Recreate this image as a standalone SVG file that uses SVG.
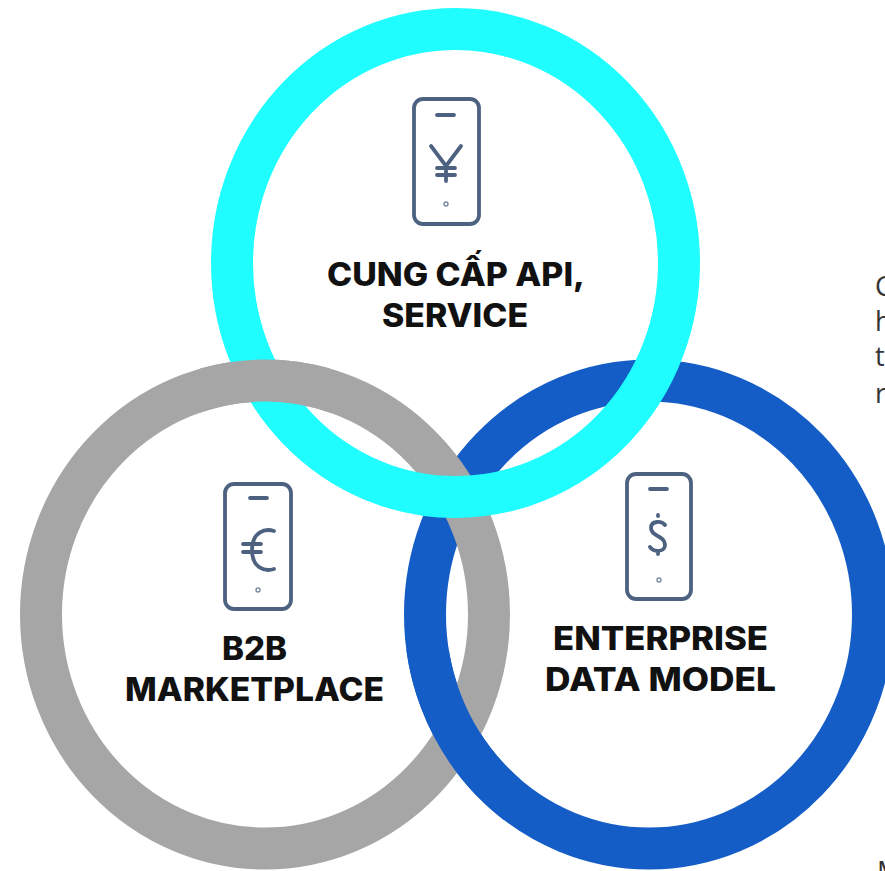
<svg xmlns="http://www.w3.org/2000/svg" width="885" height="871" viewBox="0 0 885 871">
<style>
.ring{fill:none;stroke-width:42}
.gray{stroke:#a6a6a6}.blue{stroke:#145cc6}.cyan{stroke:#1ffdff}
.ic{fill:none;stroke:#4d6280;stroke-width:3.8;stroke-linecap:round;stroke-linejoin:round}
.dot{fill:none;stroke:#7a8ba3;stroke-width:1.400}
.lb{font-family:"Inter","Liberation Sans",sans-serif;font-weight:800;font-size:32px;fill:#111;text-anchor:middle}
.side{font-family:"Open Sans","Liberation Sans",sans-serif;font-size:27px;fill:#333}
</style>
<defs>
<clipPath id="c1"><rect x="380" y="650" width="140" height="170"/></clipPath>
<clipPath id="c2"><rect x="200" y="340" width="130" height="80"/></clipPath>
</defs>
<rect width="885" height="871" fill="#fff"/>
<g id="connectors"></g>
<g id="node-blue"><ellipse class="ring blue" cx="649" cy="614.500" rx="224" ry="234"/></g>
<g id="node-gray"><ellipse class="ring gray" cx="265" cy="614.500" rx="224" ry="234"/></g>
<g id="weave-lower"><ellipse class="ring blue" cx="649" cy="614.500" rx="224" ry="234" clip-path="url(#c1)"/></g>
<g id="node-cyan"><ellipse class="ring cyan" cx="455.500" cy="263" rx="223.500" ry="234"/></g>
<g id="weave-upper"><ellipse class="ring gray" cx="265" cy="614.500" rx="224" ry="234" clip-path="url(#c2)"/></g>
<g id="node-api">
<rect class="ic" x="414" y="99" width="65" height="125" rx="9"/><path class="ic" d="M437 115h17M431 146l15 20 15-20M446 166v15M437 168h18M437 175h18"/><circle class="dot" cx="446" cy="204" r="2"/>
<text class="lb" x="456" y="286" textLength="258" lengthAdjust="spacingAndGlyphs">CUNG CẤP API,</text><text class="lb" x="455" y="327" textLength="146" lengthAdjust="spacingAndGlyphs">SERVICE</text>
</g>
<g id="node-b2b">
<rect class="ic" x="225" y="484" width="66" height="125" rx="9"/><path class="ic" d="M250 498h17M274 531c-9-3-22 1-22 19s13 22 22 19M243 544h18M243 552h18"/><circle class="dot" cx="258" cy="590" r="2"/>
<text class="lb" x="254.500" y="660" textLength="65" lengthAdjust="spacingAndGlyphs">B2B</text><text class="lb" x="254.500" y="701" textLength="259" lengthAdjust="spacingAndGlyphs">MARKETPLACE</text>
</g>
<g id="node-edm">
<rect class="ic" x="627" y="474" width="64" height="125" rx="9"/><path class="ic" d="M665 525c-3-4-14-5-14 3 0 9 14 7 14 17 0 8-12 7-15 2M650 489h17M658 515v1M658 553v1"/><circle class="dot" cx="659" cy="580" r="2"/>
<text class="lb" x="660.500" y="650" textLength="215" lengthAdjust="spacingAndGlyphs">ENTERPRISE</text><text class="lb" x="660.500" y="691" textLength="231" lengthAdjust="spacingAndGlyphs">DATA MODEL</text>
</g>
<g id="side-text">
<text class="side" x="875" y="296">C</text><text class="side" x="875" y="331">h</text><text class="side" x="875" y="366">t</text><text class="side" x="875" y="403">r</text><text class="side" x="877" y="881">M</text>
</g>
</svg>
